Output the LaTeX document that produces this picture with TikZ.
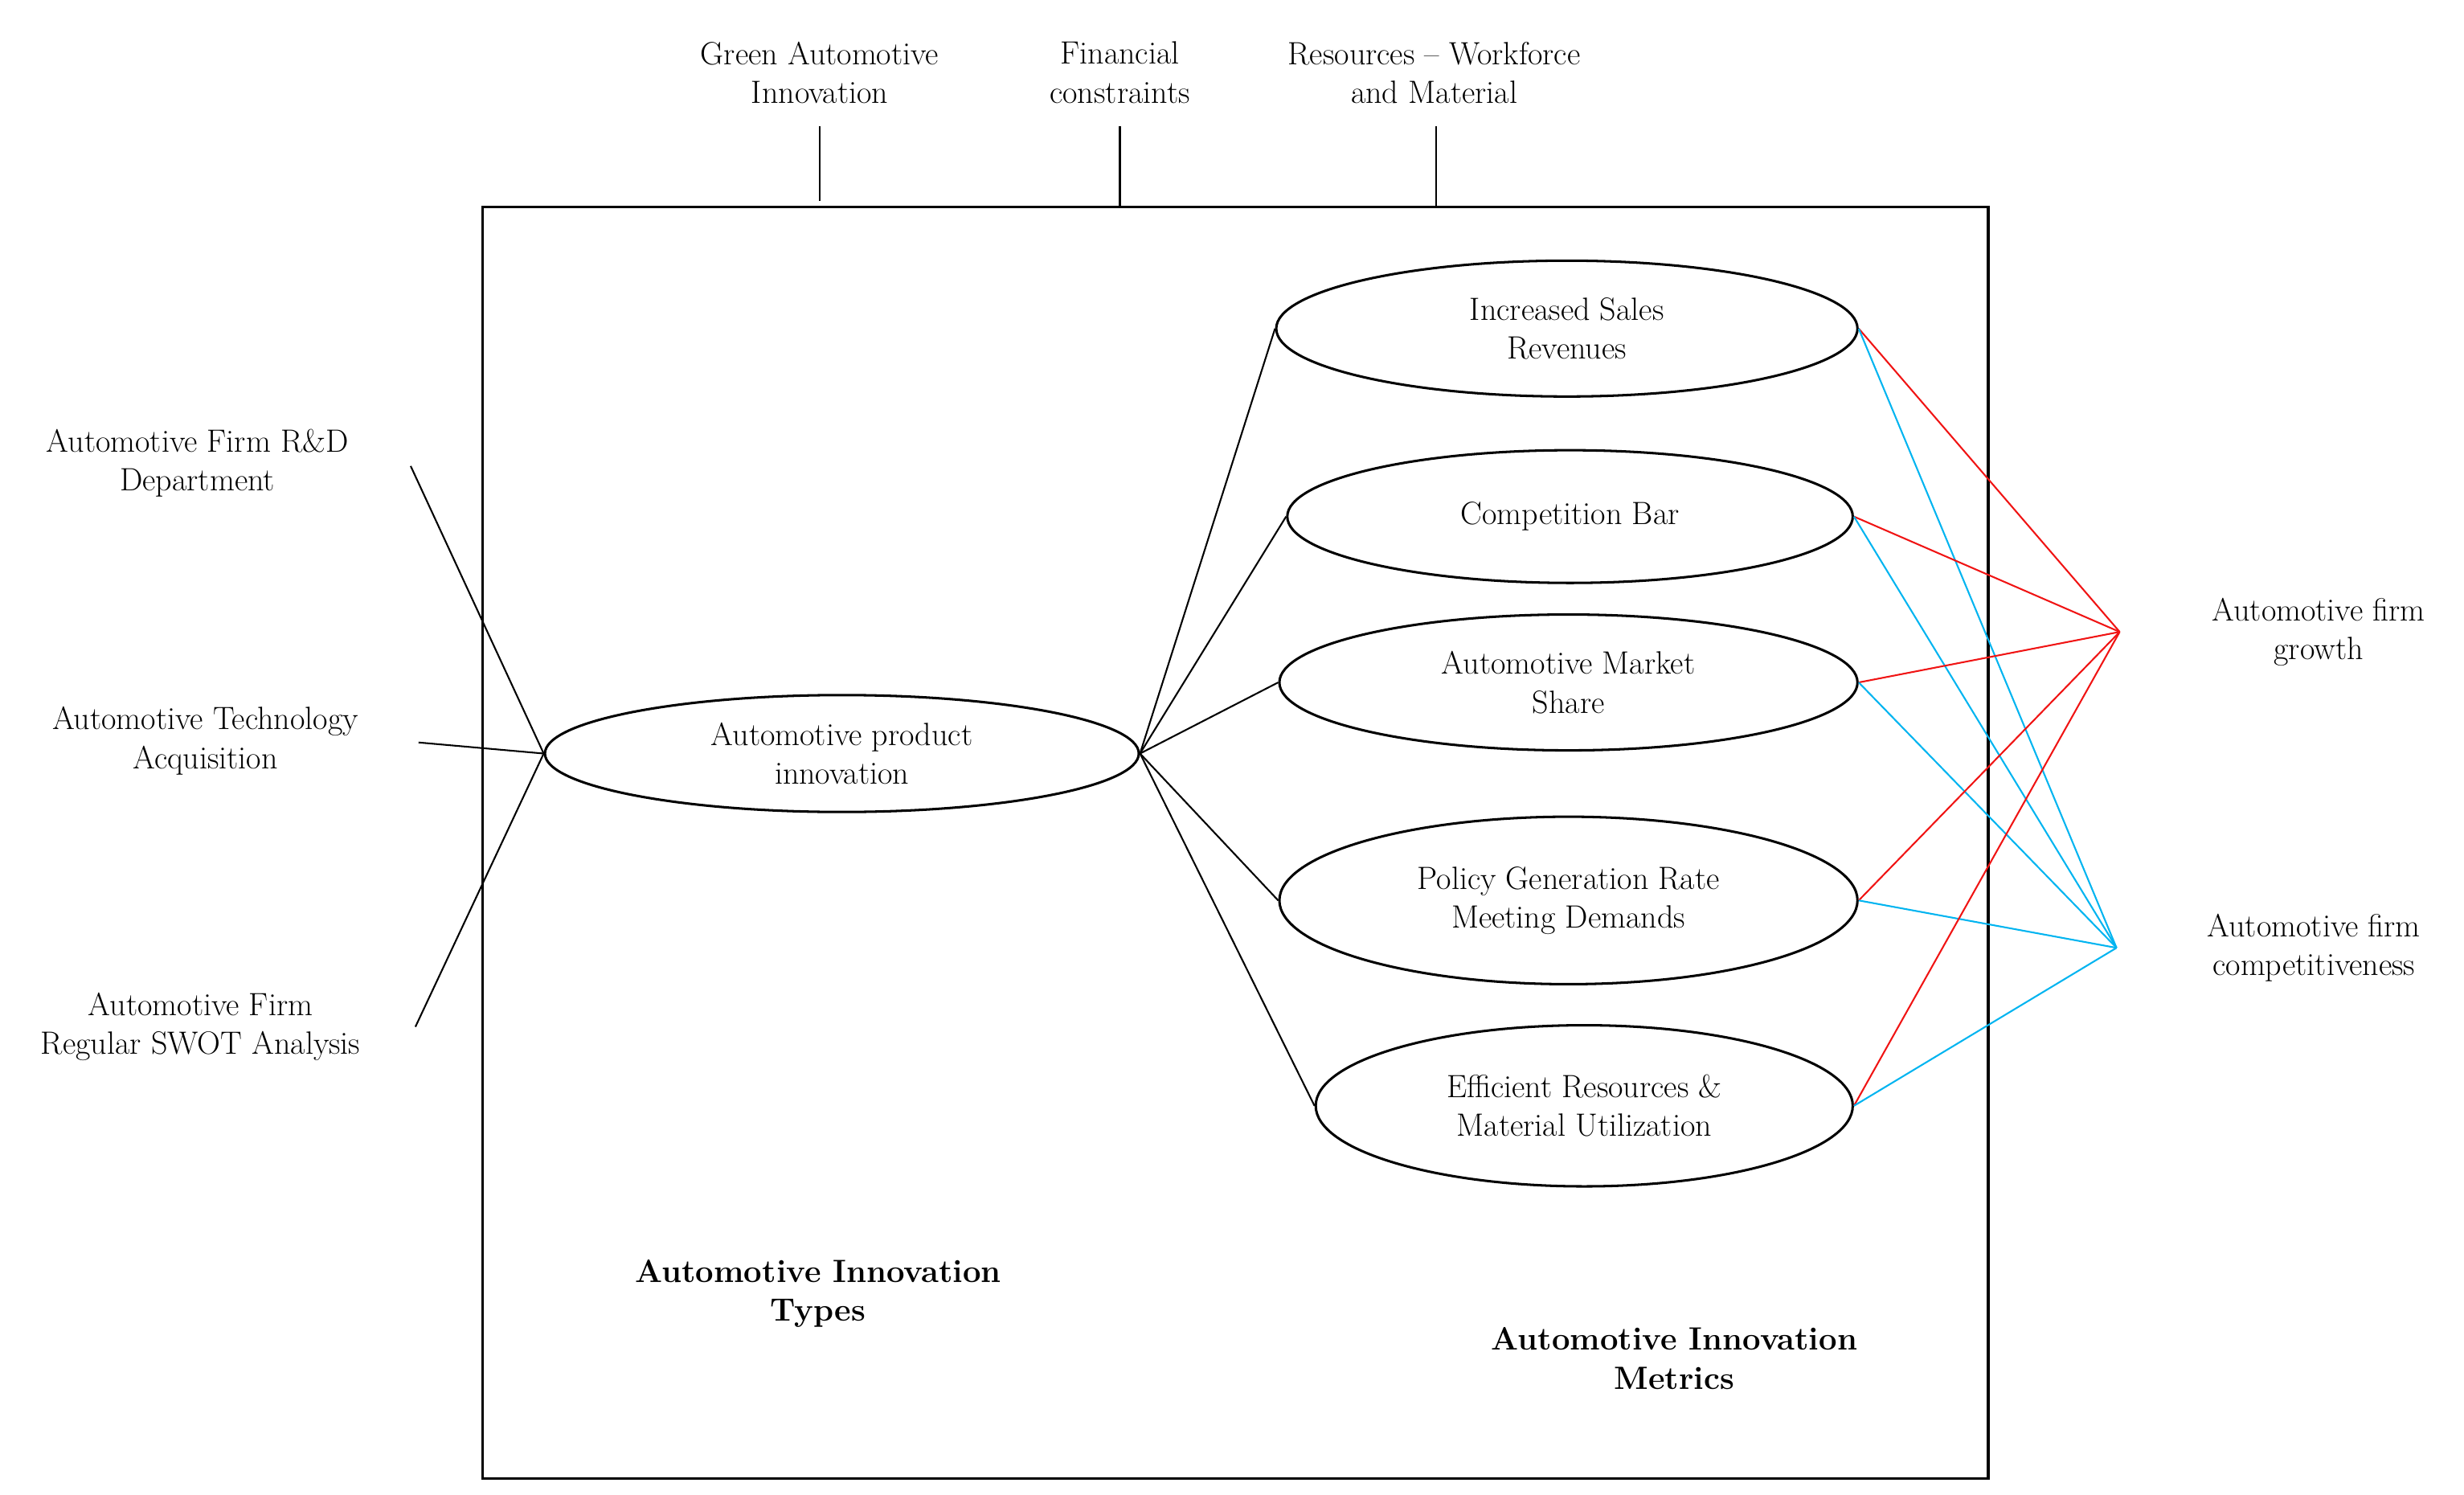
\documentclass[tikz,border=0pt]{standalone}
\usetikzlibrary{shapes.geometric}
\begin{document}
\begin{tikzpicture}[x=0.05cm,y=-0.05cm,
  txt/.style={align=center,font=\fontsize{29}{35}\selectfont},
  btxt/.style={txt,font=\fontsize{29}{35}\selectfont\bfseries},
  ell/.style={ellipse,draw,line width=2.2pt,inner sep=0pt,align=center,font=\fontsize{29}{35}\selectfont},
  ln/.style={line width=1.5pt},
  red/.style={line width=1.5pt,draw={rgb,255:red,240;green,20;blue,20}},
  cy/.style={line width=1.5pt,draw={rgb,255:red,0;green,180;blue,240}}]
\useasboundingbox (0,0) rectangle (1560,946);
\node[draw,line width=2.2pt,minimum width=953*0.05cm,minimum height=805*0.05cm,anchor=north west,inner sep=0] (box) at (305,130) {};
% top
\node[txt] (t1) at (519,46) {Green Automotive\\Innovation};
\node[txt] (t2) at (709,46) {Financial\\constraints};
\node[txt] (t3) at (908,46) {Resources -- Workforce\\and Material};
\coordinate (t1a) at (519,80); \coordinate (t1b) at (519,127);
\coordinate (t2a) at (709,80); \coordinate (t2b) at (709,130);
\coordinate (t3a) at (909,80); \coordinate (t3b) at (909,130);
\draw[ln] (t1a)--(t1b); \draw[ln] (t2a)--(t2b); \draw[ln] (t3a)--(t3b);
% left
\node[txt] (l1) at (125,293) {Automotive Firm R\&D\\Department};
\node[txt] (l2) at (130,469) {Automotive Technology\\Acquisition};
\node[txt] (l3) at (127,650) {Automotive Firm\\Regular SWOT Analysis};
\coordinate (l1e) at (260,295); \coordinate (l2e) at (265,470); \coordinate (l3e) at (263,650);
\node[ell,minimum width=376*0.05cm,minimum height=74*0.05cm] (c) at (533,477) {Automotive product\\innovation};
\draw[ln] (l1e)--(c.west); \draw[ln] (l2e)--(c.west); \draw[ln] (l3e)--(c.west);
% right ellipses
\node[ell,minimum width=368*0.05cm,minimum height=86*0.05cm] (e1) at (992,208) {Increased Sales\\Revenues};
\node[ell,minimum width=358*0.05cm,minimum height=84*0.05cm] (e2) at (994,327) {Competition Bar};
\node[ell,minimum width=366*0.05cm,minimum height=86*0.05cm] (e3) at (993,432) {Automotive Market\\Share};
\node[ell,minimum width=366*0.05cm,minimum height=106*0.05cm] (e4) at (993,570) {Policy Generation Rate\\Meeting Demands};
\node[ell,minimum width=340*0.05cm,minimum height=102*0.05cm] (e5) at (1003,700) {Efficient Resources \&\\Material Utilization};
\foreach \e in {e1,e2,e3,e4,e5}{\draw[ln] (c.east)--(\e.west);}
\coordinate (g) at (1342,400); \coordinate (k) at (1340,600);
\node[txt] (gl) at (1468,400) {Automotive firm\\growth};
\node[txt] (kl) at (1465,600) {Automotive firm\\competitiveness};
\foreach \e in {e1,e2,e3,e4,e5}{\draw[red] (\e.east)--(g); \draw[cy] (\e.east)--(k);}
\node[btxt] (b1) at (518,819) {Automotive Innovation\\Types};
\node[btxt] (b2) at (1060,860) {Automotive Innovation\\Metrics};
\end{tikzpicture}
\end{document}
